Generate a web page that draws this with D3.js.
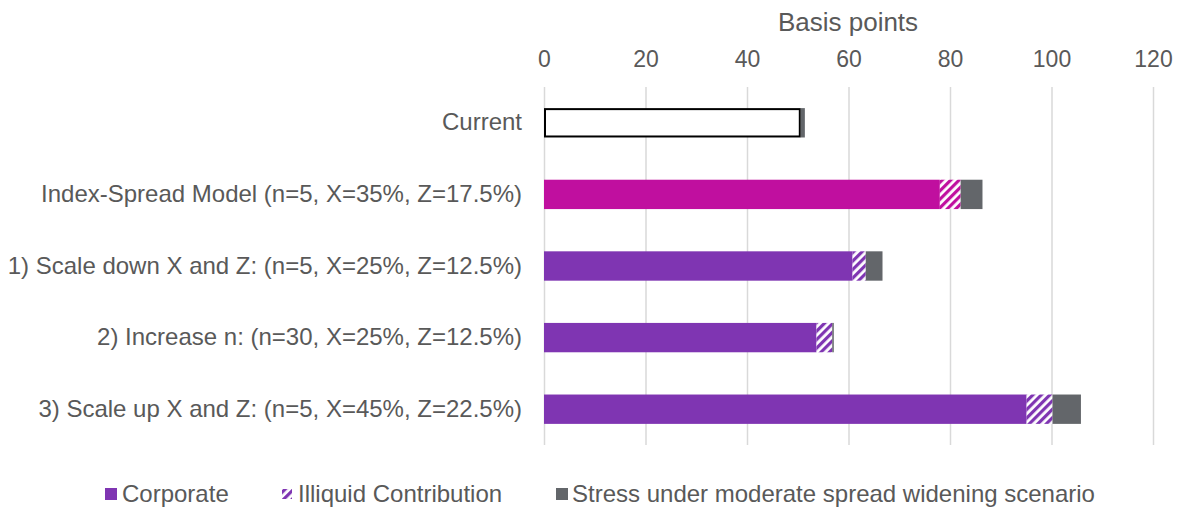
<!DOCTYPE html>
<html><head><meta charset="utf-8">
<script src="https://cdn.jsdelivr.net/npm/d3@7"></script>
<style>body{margin:0;background:#fff;} text{font-family:"Liberation Sans",Arial,sans-serif;}</style>
</head><body>
<svg id="c" width="1178" height="509"></svg>
<script>
const categories = ["Current","Index-Spread Model (n=5, X=35%, Z=17.5%)","1) Scale down X and Z: (n=5, X=25%, Z=12.5%)","2) Increase n: (n=30, X=25%, Z=12.5%)","3) Scale up X and Z: (n=5, X=45%, Z=22.5%)"];
const corporate = [50.6, 78.0, 60.8, 53.7, 95.1];
const illiquid = [0, 4.1, 2.6, 3.1, 5.1];
const stress = [0.8, 4.3, 3.3, 0.3, 5.6];
const xTicks = [0,20,40,60,80,100,120];
const seriesNames = ["Corporate","Illiquid Contribution","Stress under moderate spread widening scenario"];
const purple = "#7F35B2", pink = "#C00F9F", grey = "#63666A";

const svg = d3.select("#c");
const defs = svg.append("defs");
function hatch(id, color){
  const p = defs.append("pattern").attr("id",id).attr("patternUnits","userSpaceOnUse")
    .attr("width",6).attr("height",6).attr("patternTransform","rotate(45)");
  p.append("rect").attr("width",6).attr("height",6).attr("fill","#fff");
  p.append("rect").attr("width",3.2).attr("height",6).attr("fill",color);
}
hatch("hP", purple); hatch("hK", pink);

const x = d3.scaleLinear().domain([0,120]).range([544,1153]);
const y = d3.scaleBand().domain(categories).range([87,445]).paddingInner(0.59).paddingOuter(0.295);

// gridlines
svg.append("g").selectAll("line").data(xTicks).join("line")
  .attr("x1",d=>x(d)+0.5).attr("x2",d=>x(d)+0.5).attr("y1",87).attr("y2",445)
  .attr("stroke","#d9d9d9").attr("stroke-width",1.5);

// axis top
const ax = svg.append("g").attr("transform","translate(0,67)")
  .call(d3.axisTop(x).tickValues(xTicks).tickSize(0).tickPadding(0));
ax.select(".domain").remove();
ax.selectAll("text").attr("dy",0).attr("font-size",23).attr("fill","#595959").attr("font-family","Liberation Sans, Arial, sans-serif");
svg.append("text").attr("x",848).attr("y",31).attr("text-anchor","middle")
  .attr("font-size",26).attr("fill","#595959").text("Basis points");

// y labels
const ay = svg.append("g").attr("transform","translate(522,0)")
  .call(d3.axisLeft(y).tickSize(0).tickPadding(0));
ay.select(".domain").remove();
ay.selectAll("text").attr("font-size",24).attr("fill","#595959").attr("font-family","Liberation Sans, Arial, sans-serif");

// bars
const g = svg.append("g");
categories.forEach((c,i)=>{
  const by = y(c), bh = y.bandwidth();
  const base = i===1 ? pink : purple;
  if(i===0){
    g.append("rect").attr("x",x(0)+1).attr("y",by+1).attr("width",x(corporate[i])-x(0)-2).attr("height",bh-2)
      .attr("fill","#fff").attr("stroke","#000").attr("stroke-width",2);
  } else {
    g.append("rect").attr("x",x(0)).attr("y",by).attr("width",x(corporate[i])-x(0)).attr("height",bh).attr("fill",base);
  }
  const s1 = corporate[i], s2 = s1+illiquid[i], s3 = s2+stress[i];
  if(illiquid[i]>0) g.append("rect").attr("x",x(s1)).attr("y",by).attr("width",x(s2)-x(s1)).attr("height",bh)
    .attr("fill", i===1 ? "url(#hK)" : "url(#hP)");
  g.append("rect").attr("x",x(s2)).attr("y",by).attr("width",x(s3)-x(s2)).attr("height",bh).attr("fill",grey);
});

// legend
const leg = svg.append("g");
const items = [{x:105, tx:122, fill:purple},{x:282, tx:298, fill:"url(#hP)", small:true},{x:556, tx:572, fill:grey}];
items.forEach((it,k)=>{
  if(it.small){
    leg.append("rect").attr("x",it.x).attr("y",489).attr("width",10).attr("height",10).attr("fill",it.fill);
  } else {
    leg.append("rect").attr("x",it.x).attr("y",488).attr("width",12).attr("height",12).attr("fill",it.fill);
  }
  leg.append("text").attr("x",it.tx).attr("y",502).attr("font-size",24).attr("fill","#595959").text(seriesNames[k]);
});
</script>
</body></html>
